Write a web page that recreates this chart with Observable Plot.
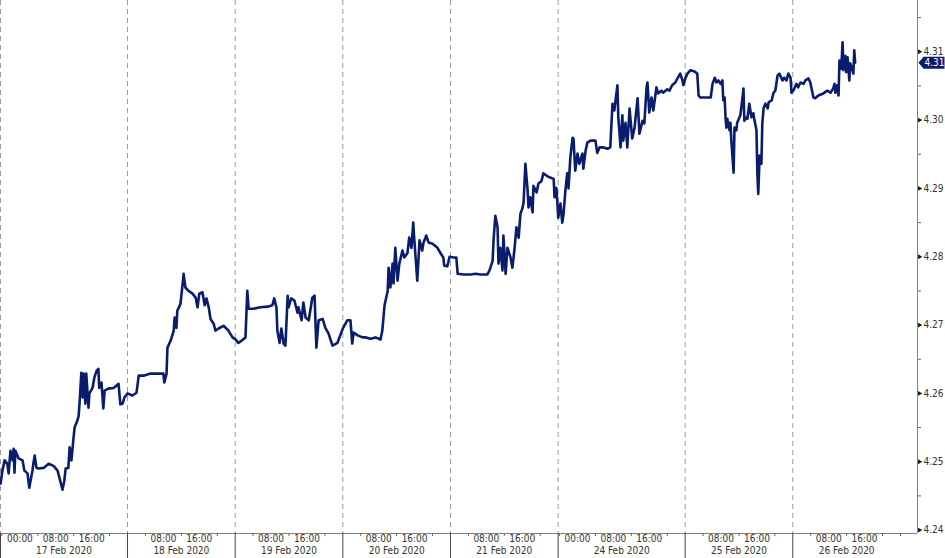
<!DOCTYPE html>
<html>
<head>
<meta charset="utf-8">
<script src="https://cdn.jsdelivr.net/npm/d3@7"></script>
<script src="https://cdn.jsdelivr.net/npm/@observablehq/plot@0.6"></script>
<style>
  html, body { margin: 0; padding: 0; background: #fff; }
  #chart { width: 945px; height: 558px; }
</style>
</head>
<body>
<div id="chart"></div>
<script>
// ---- Data: [hour of day, price] per calendar day (Feb 2020) ----
const feb16 = [[19.7,4.2468],[20.1,4.2487],[20.6,4.2502],[21.2,4.2497],[21.5,4.2483],[21.9,4.2516],[22.4,4.2502],[22.6,4.2519],[22.8,4.2484],[23.0,4.2516],[23.7,4.2505]];
const feb17 = [[0.6,4.2502],[1.0,4.2487],[1.7,4.2483],[2.1,4.2462],[2.8,4.2487],[3.0,4.2497],[3.3,4.2509],[3.7,4.2491],[4.1,4.2490],[5.3,4.2491],[6.4,4.2497],[7.5,4.2494],[8.4,4.2487],[9.0,4.2472],[9.5,4.2459],[9.9,4.2472],[10.2,4.2490],[10.8,4.2491],[11.1,4.2521],[11.5,4.2502],[11.9,4.2531],[12.2,4.2550],[12.8,4.2560],[13.1,4.2567],[13.3,4.2585],[13.7,4.2630],[14.0,4.2594],[14.2,4.2629],[14.6,4.2585],[14.8,4.2629],[15.3,4.2579],[15.5,4.2600],[16.2,4.2608],[16.6,4.2623],[17.1,4.2633],[17.5,4.2636],[17.7,4.2608],[18.2,4.2616],[18.6,4.2578],[18.9,4.2604],[19.7,4.2607],[20.9,4.2608],[22.0,4.2614],[22.4,4.2584],[22.9,4.2585],[23.3,4.2594]];
const feb18 = [[0.0,4.2600],[1.1,4.2597],[2.0,4.2601],[2.5,4.2626],[3.6,4.2626],[5.1,4.2629],[6.7,4.2629],[8.0,4.2629],[8.2,4.2616],[8.7,4.2629],[8.9,4.2667],[9.6,4.2677],[10.3,4.2692],[10.5,4.2711],[10.9,4.2696],[11.1,4.2721],[11.8,4.2731],[12.3,4.2761],[12.5,4.2775],[12.9,4.2755],[13.6,4.2750],[14.5,4.2746],[15.2,4.2740],[15.6,4.2726],[16.0,4.2746],[16.7,4.2748],[17.2,4.2729],[17.6,4.2739],[18.1,4.2726],[18.5,4.2709],[19.2,4.2702],[19.6,4.2692],[20.3,4.2695],[21.4,4.2699],[22.5,4.2692],[23.4,4.2682]];
const feb19 = [[0.1,4.2679],[0.7,4.2674],[1.4,4.2677],[2.3,4.2682],[2.7,4.2750],[3.0,4.2724],[4.1,4.2724],[5.6,4.2726],[7.2,4.2727],[8.3,4.2729],[8.7,4.2739],[9.2,4.2726],[9.4,4.2692],[9.9,4.2674],[10.3,4.2695],[10.8,4.2673],[11.2,4.2670],[11.7,4.2743],[11.9,4.2726],[12.5,4.2739],[13.2,4.2736],[13.9,4.2718],[14.1,4.2726],[14.8,4.2707],[15.2,4.2733],[15.7,4.2711],[16.4,4.2707],[17.2,4.2740],[17.7,4.2743],[18.1,4.2667],[18.6,4.2707],[19.5,4.2709],[20.1,4.2696],[20.8,4.2688],[21.7,4.2670],[22.8,4.2674]];
const feb20 = [[0.0,4.2695],[1.0,4.2707],[1.7,4.2707],[2.1,4.2673],[2.4,4.2689],[3.3,4.2685],[4.4,4.2682],[5.0,4.2682],[6.2,4.2680],[7.3,4.2682],[8.4,4.2679],[8.8,4.2692],[9.3,4.2729],[10.0,4.2750],[10.2,4.2784],[10.6,4.2755],[11.1,4.2790],[11.3,4.2761],[11.7,4.2813],[12.2,4.2765],[12.6,4.2790],[13.3,4.2809],[13.7,4.2799],[14.4,4.2805],[14.8,4.2828],[15.3,4.2813],[15.7,4.2850],[15.9,4.2828],[16.6,4.2765],[17.1,4.2824],[17.7,4.2809],[18.0,4.2821],[18.6,4.2831],[19.1,4.2821],[20.0,4.2819],[21.1,4.2813],[21.8,4.2805],[22.4,4.2799],[22.6,4.2787],[23.3,4.2786],[23.8,4.2800]];
const feb21 = [[0.7,4.2799],[1.3,4.2799],[1.6,4.2775],[2.9,4.2774],[4.5,4.2774],[5.6,4.2775],[6.7,4.2774],[8.2,4.2774],[8.7,4.2780],[9.4,4.2794],[9.6,4.2824],[10.0,4.2860],[10.5,4.2843],[10.7,4.2790],[11.1,4.2813],[11.6,4.2780],[11.8,4.2831],[12.3,4.2775],[12.7,4.2813],[13.4,4.2799],[13.8,4.2784],[14.3,4.2813],[14.7,4.2843],[15.2,4.2828],[15.6,4.2863],[16.0,4.2870],[16.3,4.2879],[16.7,4.2936],[17.2,4.2897],[17.4,4.2872],[17.8,4.2887],[18.3,4.2865],[18.5,4.2904],[19.2,4.2894],[19.6,4.2907],[20.3,4.2911],[20.7,4.2922],[21.8,4.2917],[23.0,4.2914],[23.2,4.2887],[23.6,4.2901],[23.9,4.2872]];
const feb23 = [[19.7,4.2857],[20.2,4.2878],[20.6,4.2850],[20.9,4.2863],[21.3,4.2897],[21.7,4.2922],[22.0,4.2900],[22.4,4.2945],[22.9,4.2974],[23.1,4.2973],[23.5,4.2926]];
const feb24 = [[0.0,4.2951],[0.4,4.2936],[1.1,4.2951],[1.3,4.2929],[1.8,4.2955],[2.2,4.2967],[2.9,4.2970],[4.0,4.2970],[4.4,4.2952],[4.9,4.2960],[5.8,4.2960],[6.7,4.2958],[7.3,4.2960],[7.8,4.3024],[8.2,4.3014],[8.9,4.3051],[9.1,4.3004],[9.6,4.2960],[10.0,4.3007],[10.2,4.2970],[10.7,4.2996],[11.1,4.2960],[11.6,4.3017],[12.2,4.2973],[12.7,4.2988],[13.4,4.3032],[13.8,4.2980],[14.5,4.2999],[14.9,4.2995],[15.4,4.3048],[15.6,4.3055],[16.0,4.3011],[16.5,4.3033],[16.9,4.3014],[17.6,4.3048],[18.0,4.3039],[18.7,4.3043],[19.1,4.3040],[20.0,4.3045],[20.5,4.3043],[21.1,4.3051],[21.8,4.3055],[22.3,4.3061],[22.9,4.3068],[23.4,4.3058],[23.6,4.3051]];
const feb25 = [[0.1,4.3062],[0.5,4.3068],[1.2,4.3073],[2.1,4.3071],[2.7,4.3068],[3.0,4.3036],[3.4,4.3033],[4.5,4.3033],[5.7,4.3033],[6.1,4.3053],[6.6,4.3062],[7.0,4.3055],[7.4,4.3058],[7.9,4.3053],[8.3,4.3058],[8.5,4.3029],[8.8,4.3033],[9.0,4.3004],[9.2,4.2989],[9.4,4.3002],[9.9,4.2985],[10.1,4.2996],[10.3,4.2970],[10.8,4.2923],[11.0,4.2989],[11.4,4.2985],[11.6,4.2996],[12.3,4.3007],[12.8,4.3033],[13.0,4.3046],[13.2,4.2999],[13.7,4.3004],[13.9,4.3002],[14.3,4.3024],[14.8,4.3004],[15.2,4.3010],[15.4,4.3002],[15.9,4.2985],[16.1,4.2922],[16.3,4.2892],[16.6,4.2948],[17.0,4.2936],[17.2,4.2995],[17.5,4.3018],[17.9,4.3024],[18.4,4.3017],[18.6,4.3026],[19.3,4.3029],[19.7,4.3040],[20.1,4.3043],[20.6,4.3065],[21.0,4.3068],[21.7,4.3058],[22.1,4.3062],[22.6,4.3058],[23.0,4.3068],[23.5,4.3062],[23.7,4.3040]];
const feb26 = [[0.1,4.3043],[0.8,4.3053],[1.2,4.3048],[1.7,4.3055],[2.4,4.3053],[2.8,4.3058],[3.5,4.3061],[3.9,4.3055],[4.6,4.3033],[5.0,4.3032],[5.7,4.3036],[6.8,4.3039],[7.7,4.3043],[8.4,4.3040],[9.0,4.3046],[9.3,4.3053],[9.5,4.3040],[9.9,4.3051],[10.2,4.3036],[10.4,4.3087],[10.8,4.3075],[11.1,4.3114],[11.3,4.3073],[11.7,4.3094],[11.9,4.3070],[12.2,4.3092],[12.6,4.3058],[12.8,4.3083],[13.3,4.3073],[13.5,4.3068],[13.7,4.3102],[13.9,4.3084]];

const series = [[16, feb16], [17, feb17], [18, feb18], [19, feb19], [20, feb20], [21, feb21], [23, feb23], [24, feb24], [25, feb25], [26, feb26]];

// Axis tick definitions
const yMajor = [4.24, 4.25, 4.26, 4.27, 4.28, 4.29, 4.30, 4.31];
const yMinor = [4.245, 4.255, 4.265, 4.275, 4.285, 4.295, 4.305, 4.315];
const timeLabels = [[17,0],[17,8],[17,16],[18,8],[18,16],[19,8],[19,16],[20,8],[20,16],[21,8],[21,16],[24,0],[24,8],[24,16],[25,8],[25,16],[26,8],[26,16]];
const minorTimes = [[16,20],[17,4],[17,12],[17,20],[18,4],[18,12],[18,20],[19,4],[19,12],[19,20],[20,4],[20,12],[20,20],[21,4],[21,12],[21,20],[23,20],[24,4],[24,12],[24,20],[25,4],[25,12],[25,20],[26,4],[26,12],[26,20],[27,0]];
const dayNames = ["17 Feb 2020", "18 Feb 2020", "19 Feb 2020", "20 Feb 2020", "21 Feb 2020", "24 Feb 2020", "25 Feb 2020", "26 Feb 2020"];

// ---- Trading-time axis (weekend removed; session opens Sunday ~19:41) ----
const OPEN_LEAD = 4.32; // hours traded on Sunday evening before Monday 00:00
function th(day, hour) {
  const base = day <= 21 ? (day - 17) * 24 + OPEN_LEAD : (day - 24) * 24 + 120 + 2 * OPEN_LEAD;
  return base + hour;
}
const XMIN = th(16, 24 - OPEN_LEAD);
const XMAX = th(27, 3.8);
const YMIN = 4.2395, YMAX = 4.3175;

const rows = [];
for (const [day, arr] of series) for (const [h, v] of arr) rows.push({t: th(day, h), v});
const last = rows[rows.length - 1];

const dayStarts = [th(16, 24 - OPEN_LEAD), th(18, 0), th(19, 0), th(20, 0), th(21, 0), th(23, 24 - OPEN_LEAD), th(25, 0), th(26, 0)];
const dayEnds = [th(18, 0), th(19, 0), th(20, 0), th(21, 0), th(21, 24), th(25, 0), th(26, 0), th(27, 0)];
const dayLabels = dayNames.map((label, i) => ({label, c: (dayStarts[i] + dayEnds[i]) / 2}));
const timeRows = timeLabels.map(([d, h]) => ({t: th(d, h), label: String(h).padStart(2, "0") + ":00"}));
const minorX = minorTimes.map(([d, h]) => th(d, h));

const NAVY = "#0a1c6e";
const TXT = "#333";

const tagSymbol = {
  draw(ctx) {
    ctx.moveTo(1, 0);
    ctx.lineTo(6, -6);
    ctx.lineTo(27, -6);
    ctx.lineTo(27, 6);
    ctx.lineTo(6, 6);
    ctx.closePath();
  }
};

const chart = Plot.plot({
  width: 945,
  height: 558,
  marginLeft: 0,
  marginRight: 28,
  marginTop: 0,
  marginBottom: 25,
  style: {fontFamily: "'DejaVu Sans Condensed', 'DejaVu Sans', sans-serif", fontSize: "10px", background: "#fff", overflow: "visible"},
  x: {domain: [XMIN, XMAX], axis: null},
  y: {domain: [YMIN, YMAX], axis: null},
  marks: [
    Plot.ruleX(dayStarts, {stroke: "#9a9a9a", strokeDasharray: "5,4", strokeWidth: 1}),
    Plot.ruleY([YMIN], {stroke: "#808080"}),
    Plot.ruleX([XMAX], {stroke: "#808080"}),
    Plot.axisX({ticks: minorX, tickSize: 3, tickFormat: () => "", stroke: "#666", label: null}),
    Plot.axisX({ticks: dayStarts, tickSize: 25, tickFormat: () => "", stroke: "#444", label: null}),
    Plot.text(timeRows, {x: "t", frameAnchor: "bottom", text: "label", dy: 8, fill: TXT}),
    Plot.text(dayLabels, {x: "c", frameAnchor: "bottom", text: "label", dy: 20, fill: TXT}),
    Plot.axisY({ticks: yMinor, anchor: "right", tickSize: 3, tickFormat: () => "", stroke: "#666", label: null}),
    Plot.dot(yMajor, {y: d => d, frameAnchor: "right", symbol: "triangle", rotate: 90, r: 1.8, fill: "#111", stroke: null, dx: 2}),
    Plot.text(yMajor, {y: d => d, frameAnchor: "right", text: d => d.toFixed(2), textAnchor: "start", dx: 6, fill: TXT}),
    Plot.line(rows, {x: "t", y: "v", stroke: NAVY, strokeWidth: 2.6, strokeLinejoin: "round"}),
    Plot.dot([last], {y: "v", frameAnchor: "right", symbol: tagSymbol, fill: NAVY, stroke: null}),
    Plot.text([last], {y: "v", frameAnchor: "right", text: d => d.v.toFixed(2), textAnchor: "start", dx: 7, fill: "#fff"})
  ]
});
document.getElementById("chart").appendChild(chart);
</script>
</body>
</html>
